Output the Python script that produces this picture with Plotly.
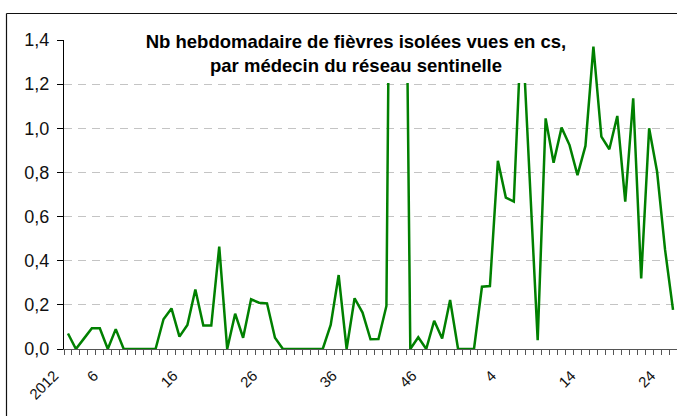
import plotly.graph_objects as go

# Weekly values (2012 week 1 .. 2013 week 25); None = missing week
values = [
    0.07, 0.0, 0.047, 0.094, 0.094, 0.0, 0.09, 0.0, 0.0, 0.0,
    0.0, 0.0, 0.135, 0.184, 0.056, 0.109, 0.27, 0.106, 0.106, 0.464,
    0.0, 0.16, 0.051, 0.225, 0.21, 0.207, 0.051, 0.0, 0.0, 0.0,
    0.0, 0.0, 0.0, 0.109, 0.335, 0.0, 0.23, 0.165, 0.044, 0.045,
    0.195, 4.5, 3.5, 0.0, 0.053, 0.0, 0.128, 0.048, 0.222, 0.0,
    0.0, 0.0, 0.282, 0.285, 0.853, 0.686, 0.668, 1.5, None, 0.04,
    1.045, 0.844, 1.003, 0.924, 0.788, 0.92, 1.37, 0.962, 0.905, 1.056,
    0.668, 1.136, 0.32, 1.0, 0.803, 0.45, 0.177,
]

weeks_2012 = [str(w) for w in range(1, 53)]
weeks_2013 = [str(w) for w in range(1, 26)]
week_labels = ["2012"] + weeks_2012[1:] + weeks_2013
tick_pos = [0, 5, 15, 25, 35, 45, 55, 65, 75]
tick_text = [week_labels[i] for i in tick_pos]

title_lines = ["Nb hebdomadaire de fièvres isolées vues en cs,",
               "par médecin du réseau sentinelle"]

x = list(range(len(values)))

fig = go.Figure(
    go.Scatter(
        x=x, y=values, mode="lines",
        line=dict(color="#008000", width=2.5),
        connectgaps=True, hoverinfo="skip",
    )
)

W, H = 677, 416
ml, mr, mt, mb = 64, 0, 40, 67
pw, ph = W - ml - mr, H - mt - mb

def px_x(p):
    return (p - ml) / pw

def px_y(p):
    return (H - mb - p) / ph

fig.update_layout(
    width=W, height=H,
    margin=dict(l=ml, r=mr, t=mt, b=mb, autoexpand=False),
    paper_bgcolor="white", plot_bgcolor="white",
    separators=", ",
    font=dict(family="Liberation Sans, Arial, sans-serif", color="#111"),
    showlegend=False,
    xaxis=dict(
        automargin=False,
        range=[-0.5, len(values) - 0.5],
        tickmode="array", tickvals=tick_pos, ticktext=tick_text,
        tickangle=-45, ticks="outside", ticklen=6,
        tickcolor="rgba(0,0,0,0)",
        ticklabelstandoff=5, ticklabelshift=-14,
        tickfont=dict(size=15, color="#111"),
        showline=True, linecolor="#555", linewidth=1,
        showgrid=False, zeroline=False, layer="below traces",
        minor=dict(
            tickmode="array",
            tickvals=[i - 0.5 for i in range(len(values) + 1)],
            ticks="outside", ticklen=5, tickcolor="#555", tickwidth=1,
            showgrid=False,
        ),
    ),
    yaxis=dict(
        automargin=False,
        range=[0, 1.4], tick0=0, dtick=0.2, tickformat=".1f",
        ticks="outside", ticklen=6, tickcolor="#000",
        tickfont=dict(size=18, color="#111"),
        ticklabelstandoff=4,
        showline=True, linecolor="#000", linewidth=1,
        showgrid=True, gridcolor="#c4c4c4", gridwidth=1, griddash="8px,6px",
        zeroline=False, layer="below traces",
    ),
    annotations=[
        dict(
            text="<b>" + title_lines[0] + "</b><br><b>" + title_lines[1] + "</b>",
            xref="paper", yref="paper",
            x=px_x(356), y=px_y(83), xanchor="center", yanchor="bottom",
            width=440, height=59, align="center", valign="middle",
            showarrow=False, bgcolor="white", borderpad=0, borderwidth=0,
            font=dict(size=18.5, color="#000"),
        )
    ],
    shapes=[
        dict(
            type="line", xref="paper", yref="paper",
            x0=px_x(6.5), x1=px_x(6.5), y0=px_y(430), y1=px_y(13.5),
            line=dict(color="#111", width=1.2), layer="above",
        ),
        dict(
            type="line", xref="paper", yref="paper",
            x0=px_x(6.5), x1=px_x(690), y0=px_y(13.5), y1=px_y(13.5),
            line=dict(color="#111", width=1.2), layer="above",
        ),
    ],
)

fig.write_html(
    "out.html",
    config={"displayModeBar": False},
    post_script="document.body.style.margin='0';document.body.style.overflow='hidden';",
)
